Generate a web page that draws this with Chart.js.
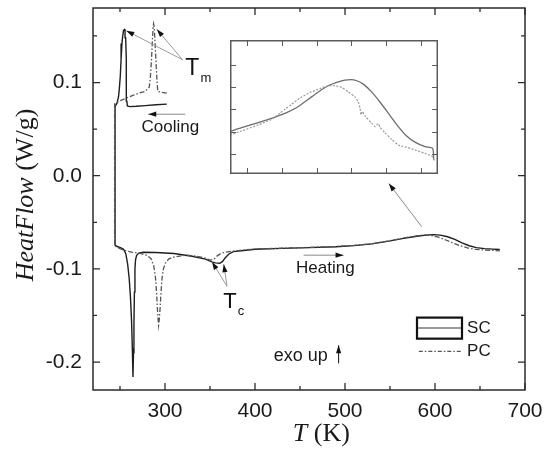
<!DOCTYPE html>
<html lang="en">
<head>
<meta charset="UTF-8">
<title>Heat flow of SC and PC samples</title>
<script src="https://cdn.jsdelivr.net/npm/chart.js"></script>
<style>
    body { margin: 0; background: #fff; }
    #wrap { position: relative; width: 552px; height: 452px; }
    #main { position: absolute; left: 0; top: 0; }
    #inset { position: absolute; left: 230px; top: 40px; }
</style>
</head>
<body>
<div id="wrap">
    <canvas id="main" width="552" height="452"></canvas>
    <canvas id="inset" width="208" height="134"></canvas>
</div>
<script>
// ---- data (T in K, heat flow in W/g) ----
// cooling runs are listed from 302 K downwards, heating runs from the bottom of the jump upwards
const scCoolT  = [302, 290, 278, 268, 261, 258.2, 257.6, 257.2, 256.8, 256.3, 255.6, 255.0, 254.0, 253.0, 252.2, 251.2, 250.3, 249.3, 248.4, 246.7, 244.5];
const scCoolHF = [0.0768, 0.0762, 0.0752, 0.0745, 0.0742, 0.0748, 0.080, 0.100, 0.125, 0.148, 0.1567, 0.157, 0.156, 0.150, 0.142, 0.125, 0.1065, 0.094, 0.085, 0.0778, 0.0745];

const scHeatT  = [244.5, 247, 251, 254, 256.5, 258.5, 260.2, 261.6, 262.8, 263.7, 264.4, 265.0, 265.5, 266.0, 266.6, 267.3, 268.5, 271, 276, 290,
                  310, 330, 345, 352, 356, 361, 364, 367, 371, 376, 385, 400, 430, 460, 490, 510, 530, 550, 565, 580,
                  590, 598, 606, 614, 622, 630, 638, 646, 655, 664, 672];
const scHeatHF = [-0.0745, -0.0760, -0.0775, -0.0790, -0.0840, -0.0950, -0.1100, -0.1300, -0.1550, -0.1850, -0.2160, -0.1900, -0.1600, -0.1250, -0.1000, -0.0900, -0.0855, -0.0830, -0.0822, -0.0825,
                  -0.0835, -0.0865, -0.0895, -0.0925, -0.0935, -0.0940, -0.0920, -0.0880, -0.0840, -0.0815, -0.0805, -0.0790, -0.0780, -0.0772, -0.0762, -0.0750, -0.0732, -0.0700, -0.0672, -0.0650,
                  -0.0638, -0.0632, -0.0638, -0.0655, -0.0683, -0.0720, -0.0752, -0.0772, -0.0783, -0.0788, -0.0792];

const pcCoolT  = [302, 296, 292, 291.2, 290.2, 289.2, 288.3, 287.7, 287.3, 286.8, 286.0, 285.0, 283.8, 282.5, 278, 271, 265, 259.6, 252.2, 247, 244];
const pcCoolHF = [0.0886, 0.0895, 0.0905, 0.100, 0.118, 0.138, 0.155, 0.161, 0.163, 0.159, 0.145, 0.125, 0.1065, 0.095, 0.0905, 0.0886, 0.0865, 0.0843, 0.0814, 0.0790, 0.0770];

const pcHeatT  = [244, 248, 254, 263, 272.6, 280, 284.5, 287.5, 289.3, 290.6, 291.5, 292.4, 292.9, 293.6, 294.5, 295.6, 296.7, 298.3, 300.3, 304,
                  308, 316, 324.4, 335, 345, 350, 354, 358, 362, 367, 375, 385, 400, 430, 460, 490, 510, 530, 550, 565,
                  580, 588, 596, 604, 612, 620, 628, 636, 645, 655, 664, 672];
const pcHeatHF = [-0.0750, -0.0775, -0.0800, -0.0820, -0.0834, -0.0855, -0.0890, -0.0970, -0.1080, -0.1250, -0.1420, -0.1550, -0.1605, -0.1550, -0.1430, -0.1250, -0.1100, -0.1000, -0.0940, -0.0895,
                  -0.0877, -0.0862, -0.0853, -0.0865, -0.0885, -0.0905, -0.0898, -0.0860, -0.0835, -0.0820, -0.0810, -0.0800, -0.0787, -0.0778, -0.0770, -0.0760, -0.0748, -0.0730, -0.0698, -0.0668,
                  -0.0645, -0.0636, -0.0642, -0.0660, -0.0690, -0.0722, -0.0752, -0.0775, -0.0790, -0.0798, -0.0802, -0.0806];

// magnified view of the peak near 600 K
const insetScT  = [555, 561.7, 571.3, 581, 587.7, 593.5, 600.2, 606, 611.7, 617.5, 621.3, 624.8, 628.1, 631.9, 636.7, 641.5, 646.3, 652.1, 656.9, 661.7, 667.5, 671.9, 672.5];
const insetScHF = [-0.0740, -0.0733, -0.0724, -0.0714, -0.0706, -0.0697, -0.0682, -0.0669, -0.0658, -0.0651, -0.0648, -0.0647, -0.0649, -0.0655, -0.0669, -0.0687, -0.0707, -0.0731, -0.0748, -0.0759, -0.0767, -0.0770, -0.0791];
const insetPcT  = [555, 561.7, 571.3, 579, 583.8, 586.7, 590.6, 595.4, 601.2, 607, 611.7, 615.6, 619.4, 623.3, 627.1, 629, 630, 630.6, 631.3, 632.9,
                   636.7, 638.7, 639.6, 640.6, 641.5, 644.4, 648.3, 652.1, 654.1, 656.9, 661.7, 667.5, 671.4, 672.3, 672.9];
const insetPcHF = [-0.0746, -0.0739, -0.0728, -0.0718, -0.0707, -0.0700, -0.0691, -0.0680, -0.0670, -0.0663, -0.0658, -0.0658, -0.0661, -0.0669, -0.0678, -0.0687, -0.0698, -0.0710, -0.0704, -0.0712,
                   -0.0725, -0.0731, -0.0728, -0.0726, -0.0732, -0.0742, -0.0754, -0.0764, -0.0766, -0.0768, -0.0773, -0.0779, -0.0784, -0.0788, -0.0792];

// axis ticks
const xMajor = [300, 400, 500, 600, 700];
const xMinor = [250, 350, 450, 550, 650];
const yMajor = [-0.2, -0.1, 0.0, 0.1];
const yMinor = [-0.15, -0.05, 0.05, 0.15];
const insetXTicks = [565, 585, 605, 625, 645, 665];
const insetYTicks = [-0.078, -0.074, -0.070, -0.066, -0.062];

const SANS = '"Liberation Sans", Arial, sans-serif';
const SERIF = '"Liberation Serif", "Times New Roman", serif';

const toPts = (xs, ys) => xs.map((x, i) => ({ x: x, y: ys[i] }));

function arrow(ctx, x1, y1, x2, y2, lineColor) {
    ctx.strokeStyle = lineColor;
    ctx.lineWidth = 1;
    ctx.beginPath();
    ctx.moveTo(x1, y1);
    ctx.lineTo(x2, y2);
    ctx.stroke();
    const a = Math.atan2(y2 - y1, x2 - x1), L = 8, W = 2.6;
    ctx.fillStyle = '#111';
    ctx.beginPath();
    ctx.moveTo(x2, y2);
    ctx.lineTo(x2 - L * Math.cos(a) + W * Math.sin(a), y2 - L * Math.sin(a) - W * Math.cos(a));
    ctx.lineTo(x2 - L * Math.cos(a) - W * Math.sin(a), y2 - L * Math.sin(a) + W * Math.cos(a));
    ctx.closePath();
    ctx.fill();
}

function subLabel(ctx, main, sub, x, y, big, small) {
    ctx.textAlign = 'left';
    ctx.textBaseline = 'alphabetic';
    ctx.font = big + 'px ' + SANS;
    ctx.fillText(main, x, y);
    const w = ctx.measureText(main).width;
    ctx.font = small + 'px ' + SANS;
    ctx.fillText(sub, x + w + 1, y + 7);
}

// frame, inward ticks, titles, notes and legend of the main plot
const decor = {
    id: 'decor',
    afterDatasetsDraw(chart) {
        const { ctx, chartArea: a, scales: { x, y } } = chart;
        const px = v => x.getPixelForValue(v);
        const py = v => y.getPixelForValue(v);
        ctx.save();

        ctx.strokeStyle = '#2b2b2b';
        ctx.lineWidth = 1.5;
        ctx.strokeRect(a.left, a.top, a.right - a.left, a.bottom - a.top);

        ctx.lineWidth = 1.3;
        ctx.beginPath();
        xMajor.concat(xMinor).forEach(v => {
            const L = xMajor.includes(v) ? 7 : 4, X = px(v);
            ctx.moveTo(X, a.bottom); ctx.lineTo(X, a.bottom - L);
            ctx.moveTo(X, a.top); ctx.lineTo(X, a.top + L);
        });
        yMajor.concat(yMinor).forEach(v => {
            const L = yMajor.includes(v) ? 7 : 4, Y = py(v);
            ctx.moveTo(a.left, Y); ctx.lineTo(a.left + L, Y);
            ctx.moveTo(a.right, Y); ctx.lineTo(a.right - L, Y);
        });
        ctx.stroke();

        // axis titles
        ctx.fillStyle = '#1a1a1a';
        ctx.textBaseline = 'alphabetic';
        ctx.textAlign = 'left';
        ctx.save();
        ctx.translate(32.5, (a.top + a.bottom) / 2 - 4);
        ctx.rotate(-Math.PI / 2);
        ctx.font = 'italic 26px ' + SERIF;
        const w1 = ctx.measureText('HeatFlow').width;
        ctx.font = '26px ' + SERIF;
        const w2 = ctx.measureText(' (W/g)').width;
        ctx.font = 'italic 26px ' + SERIF;
        ctx.fillText('HeatFlow', -(w1 + w2) / 2, 0);
        ctx.font = '26px ' + SERIF;
        ctx.fillText(' (W/g)', -(w1 + w2) / 2 + w1, 0);
        ctx.restore();

        ctx.font = 'italic 26px ' + SERIF;
        const t1 = ctx.measureText('T').width;
        ctx.font = '26px ' + SERIF;
        const t2 = ctx.measureText(' (K)').width;
        const tx = px(473.7) - (t1 + t2) / 2;
        ctx.font = 'italic 26px ' + SERIF;
        ctx.fillText('T', tx, 441);
        ctx.font = '26px ' + SERIF;
        ctx.fillText(' (K)', tx + t1, 441);

        // melting peaks
        arrow(ctx, px(319.6), py(0.1244), px(257), py(0.1556), '#9a9a9a');
        arrow(ctx, px(319.6), py(0.1244), px(290.9), py(0.1572), '#9a9a9a');
        ctx.fillStyle = '#111';
        subLabel(ctx, 'T', 'm', px(322.6), py(0.1083), 23, 13);

        // crystallisation
        arrow(ctx, px(368.9), py(-0.1186), px(352.2), py(-0.0925), '#9a9a9a');
        arrow(ctx, px(368.9), py(-0.1186), px(365.3), py(-0.0949), '#9a9a9a');
        ctx.fillStyle = '#111';
        subLabel(ctx, 'T', 'c', px(364.8), py(-0.1423), 22, 13);

        // run directions
        arrow(ctx, px(322.6), py(0.066), px(281.4), py(0.066), '#8a8a8a');
        arrow(ctx, px(454), py(-0.0853), px(498.4), py(-0.0853), '#8a8a8a');
        ctx.fillStyle = '#1a1a1a';
        ctx.font = '17px ' + SANS;
        ctx.textBaseline = 'middle';
        ctx.textAlign = 'center';
        ctx.fillText('Cooling', px(305.9), py(0.0524));
        ctx.fillText('Heating', px(478.1), py(-0.0995));

        ctx.font = '18px ' + SANS;
        ctx.textAlign = 'left';
        ctx.fillText('exo up', px(420.7), py(-0.1939));
        arrow(ctx, px(492.9), py(-0.2014), px(492.9), py(-0.182), '#111');

        // pointer to the magnified view
        arrow(ctx, px(585.2), py(-0.0547), px(548.7), py(-0.0084), '#8a8a8a');

        // legend
        const lx1 = px(580), lx2 = px(630);
        ctx.strokeStyle = '#111';
        ctx.lineWidth = 2.2;
        ctx.strokeRect(lx1, py(-0.1523), lx2 - lx1, py(-0.1749) - py(-0.1523));
        ctx.strokeStyle = '#777';
        ctx.lineWidth = 1.6;
        ctx.beginPath();
        ctx.moveTo(lx1 + 1, py(-0.1634)); ctx.lineTo(lx2 - 1, py(-0.1634));
        ctx.stroke();
        ctx.strokeStyle = '#555';
        ctx.lineWidth = 1.2;
        ctx.setLineDash([4, 2, 1.5, 2]);
        ctx.beginPath();
        ctx.moveTo(px(582), py(-0.1885)); ctx.lineTo(lx2, py(-0.1885));
        ctx.stroke();
        ctx.setLineDash([]);
        ctx.fillStyle = '#1a1a1a';
        ctx.font = '17px ' + SANS;
        ctx.fillText('SC', px(635.6), py(-0.1634));
        ctx.fillText('PC', px(635.6), py(-0.1885));

        ctx.restore();
    }
};

new Chart(document.getElementById('main'), {
    type: 'scatter',
    data: {
        datasets: [
            {
                label: 'PC',
                data: toPts(pcCoolT, pcCoolHF).concat(toPts(pcHeatT, pcHeatHF)),
                showLine: true,
                borderColor: '#555',
                borderWidth: 1.3,
                borderDash: [5, 2, 1.5, 2],
                pointRadius: 0,
                tension: 0
            },
            {
                label: 'SC',
                data: toPts(scCoolT, scCoolHF).concat(toPts(scHeatT, scHeatHF)),
                showLine: true,
                borderColor: '#1e1e1e',
                borderWidth: 1.4,
                pointRadius: 0,
                tension: 0
            }
        ]
    },
    options: {
        responsive: false,
        animation: false,
        events: [],
        layout: { padding: { top: 8, right: 27, left: 0, bottom: 0 } },
        plugins: { legend: { display: false }, tooltip: { enabled: false } },
        scales: {
            x: {
                type: 'linear',
                min: 220,
                max: 700,
                afterFit: s => { s.height = 62; s.paddingLeft = 0; s.paddingRight = 0; },
                afterBuildTicks: s => { s.ticks = xMajor.map(v => ({ value: v })); },
                grid: { display: false, drawTicks: false },
                border: { display: false },
                ticks: {
                    autoSkip: false,
                    maxRotation: 0,
                    padding: 9,
                    color: '#1a1a1a',
                    font: { family: SANS, size: 21 },
                    callback: v => String(v)
                }
            },
            y: {
                type: 'linear',
                min: -0.23,
                max: 0.18,
                afterFit: s => { s.width = 93; s.paddingTop = 0; s.paddingBottom = 0; },
                afterBuildTicks: s => { s.ticks = yMajor.map(v => ({ value: v })); },
                grid: { display: false, drawTicks: false },
                border: { display: false },
                ticks: {
                    autoSkip: false,
                    padding: 11,
                    color: '#1a1a1a',
                    font: { family: SANS, size: 21 },
                    callback: v => v.toFixed(1)
                }
            }
        }
    },
    plugins: [decor]
});

const insetDecor = {
    id: 'insetDecor',
    beforeDraw(chart) {
        const ctx = chart.ctx;
        ctx.save();
        ctx.fillStyle = '#fff';
        ctx.fillRect(0, 0, chart.width, chart.height);
        ctx.restore();
    },
    afterDatasetsDraw(chart) {
        const { ctx, width, height, scales: { x, y } } = chart;
        ctx.save();
        ctx.strokeStyle = '#5a5a5a';
        ctx.lineWidth = 1.5;
        ctx.strokeRect(0.75, 0.75, width - 1.5, height - 1.5);
        ctx.lineWidth = 1;
        ctx.beginPath();
        insetXTicks.forEach(v => {
            const X = Math.round(x.getPixelForValue(v)) + 0.5;
            ctx.moveTo(X, 1); ctx.lineTo(X, 6);
            ctx.moveTo(X, height - 1); ctx.lineTo(X, height - 6);
        });
        insetYTicks.forEach(v => {
            const Y = Math.round(y.getPixelForValue(v)) + 0.5;
            ctx.moveTo(1, Y); ctx.lineTo(6, Y);
            ctx.moveTo(width - 1, Y); ctx.lineTo(width - 6, Y);
        });
        ctx.stroke();
        ctx.restore();
    }
};

new Chart(document.getElementById('inset'), {
    type: 'scatter',
    data: {
        datasets: [
            {
                data: toPts(insetPcT, insetPcHF),
                showLine: true,
                borderColor: '#9a9a9a',
                borderWidth: 1.2,
                borderDash: [2, 1.5],
                pointRadius: 0,
                tension: 0.2
            },
            {
                data: toPts(insetScT, insetScHF),
                showLine: true,
                borderColor: '#6e6e6e',
                borderWidth: 1.3,
                pointRadius: 0,
                tension: 0.2
            }
        ]
    },
    options: {
        responsive: false,
        animation: false,
        events: [],
        layout: { padding: 0 },
        plugins: { legend: { display: false }, tooltip: { enabled: false } },
        scales: {
            x: { type: 'linear', display: false, min: 555, max: 675 },
            y: { type: 'linear', display: false, min: -0.0816, max: -0.0576 }
        }
    },
    plugins: [insetDecor]
});
</script>
</body>
</html>
